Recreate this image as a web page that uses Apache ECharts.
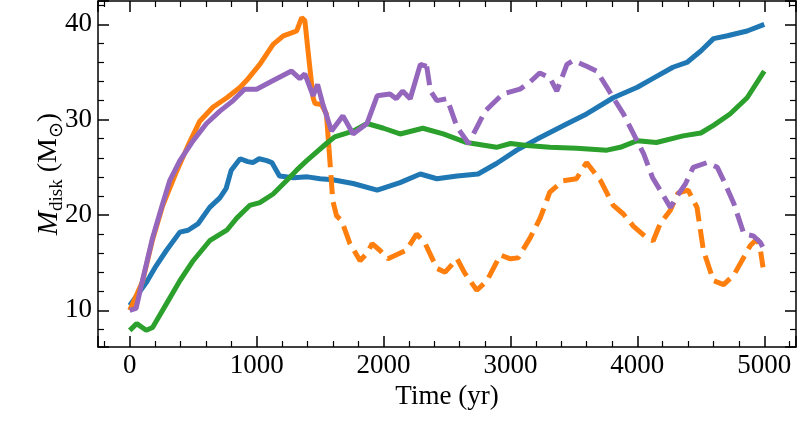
<!DOCTYPE html>
<html>
<head>
<meta charset="utf-8">
<script src="https://cdn.jsdelivr.net/npm/echarts@6/dist/echarts.min.js"></script>
<style>
    html, body { margin: 0; padding: 0; background: #fff; }
    #disk-mass-chart { width: 800px; height: 426px; }
</style>
</head>
<body>
<div id="disk-mass-chart"></div>
<script>
    // blue run
    const blueTime = [0, 60, 130, 200, 290, 395, 460, 540, 630, 710, 760, 800, 870, 930, 970, 1020, 1080, 1120, 1180, 1290, 1400, 1500, 1600, 1760, 1950, 2130, 2290, 2420, 2580, 2745, 2890, 3050, 3230, 3450, 3600, 3810, 4000, 4120, 4280, 4390, 4500, 4600, 4710, 4865, 5000];
    const blueMass = [10.5, 11.6, 12.9, 14.5, 16.3, 18.2, 18.4, 19.1, 20.8, 21.8, 22.8, 24.7, 25.9, 25.6, 25.5, 25.9, 25.7, 25.5, 24.1, 23.9, 24.0, 23.8, 23.7, 23.3, 22.6, 23.4, 24.3, 23.8, 24.1, 24.3, 25.4, 26.8, 28.1, 29.6, 30.6, 32.3, 33.4, 34.3, 35.5, 36.0, 37.2, 38.5, 38.8, 39.3, 40.0];

    // orange run, solid part then dashed part
    const orangeTime = [0, 100, 180, 260, 370, 460, 550, 655, 765, 870, 920, 1025, 1130, 1210, 1275, 1315, 1355, 1380, 1405, 1445, 1460, 1510, 1550, 1570];
    const orangeMass = [10.0, 13.0, 17.4, 21.0, 24.6, 27.3, 29.8, 31.3, 32.3, 33.4, 34.1, 35.8, 37.9, 38.8, 39.1, 39.3, 40.7, 40.4, 37.2, 32.3, 31.7, 31.6, 30.6, 27.0];
    const orangeDashTime = [1570, 1600, 1630, 1670, 1735, 1815, 1870, 1910, 1970, 2035, 2115, 2180, 2260, 2325, 2420, 2485, 2580, 2640, 2735, 2815, 2920, 3000, 3060, 3155, 3235, 3310, 3415, 3520, 3600, 3710, 3810, 3890, 3970, 4075, 4125, 4180, 4260, 4320, 4400, 4470, 4520, 4600, 4680, 4760, 4840, 4890, 4945, 4970, 4990];
    const orangeDashMass = [27.0, 21.5, 19.9, 19.4, 17.0, 15.2, 16.0, 17.0, 16.3, 15.4, 15.9, 16.3, 18.0, 17.1, 14.4, 14.0, 15.4, 13.9, 12.1, 13.1, 15.8, 15.4, 15.5, 17.6, 19.7, 22.4, 23.6, 23.8, 25.5, 23.6, 21.0, 20.1, 18.8, 17.6, 17.3, 19.1, 20.5, 22.3, 22.6, 20.8, 16.3, 13.1, 12.7, 13.7, 15.6, 16.8, 17.5, 16.3, 14.5];

    // green run
    const greenTime = [0, 55, 130, 180, 290, 395, 500, 630, 765, 845, 945, 1025, 1130, 1235, 1315, 1395, 1550, 1615, 1760, 1870, 2000, 2130, 2310, 2470, 2655, 2890, 3000, 3130, 3310, 3520, 3760, 3865, 4000, 4150, 4360, 4500, 4600, 4730, 4865, 5000];
    const greenMass = [7.9, 8.6, 7.9, 8.2, 10.7, 13.1, 15.2, 17.3, 18.4, 19.7, 21.0, 21.3, 22.2, 23.6, 24.7, 25.7, 27.5, 28.2, 28.8, 29.6, 29.1, 28.5, 29.1, 28.5, 27.6, 27.1, 27.5, 27.3, 27.1, 27.0, 26.8, 27.1, 27.8, 27.6, 28.3, 28.6, 29.4, 30.6, 32.3, 35.1];

    // purple run, solid part then dashed part
    const purpleTime = [0, 50, 100, 180, 260, 315, 395, 500, 605, 710, 815, 905, 1000, 1130, 1275, 1340, 1380, 1445, 1480, 1520, 1590, 1680, 1760, 1870, 1950, 2050, 2100, 2150, 2210, 2290, 2340];
    const purpleMass = [10.0, 10.2, 13.1, 17.6, 21.2, 23.6, 25.7, 27.8, 29.6, 30.9, 32.0, 33.2, 33.2, 34.1, 35.1, 34.3, 34.8, 32.5, 33.7, 31.7, 28.8, 30.4, 28.5, 29.6, 32.5, 32.7, 32.2, 33.0, 32.2, 35.8, 35.6];
    const purpleDashTime = [2340, 2370, 2420, 2500, 2580, 2670, 2735, 2800, 2940, 3075, 3150, 3230, 3310, 3365, 3445, 3495, 3600, 3680, 3760, 3810, 3890, 3970, 4050, 4120, 4180, 4260, 4320, 4380, 4440, 4550, 4630, 4680, 4760, 4840, 4915, 4970, 5000];
    const purpleDashMass = [35.6, 33.0, 32.0, 32.2, 29.2, 27.5, 29.2, 30.9, 32.7, 33.2, 33.9, 34.9, 34.4, 33.0, 35.8, 36.2, 35.6, 35.1, 33.4, 32.3, 30.6, 28.5, 26.4, 23.9, 22.6, 20.8, 22.1, 23.3, 25.0, 25.5, 25.0, 23.6, 21.2, 18.0, 17.8, 17.1, 16.3];

    const xMin = -250, xMax = 5250;
    const yMin = 6.15, yMax = 42.45;

    function pairs(t, v) {
        return t.map((x, i) => [x, v[i]]);
    }

    function lineSeries(t, v, color, dashed) {
        return {
            type: "line",
            data: pairs(t, v),
            showSymbol: false,
            symbol: "none",
            lineStyle: { color: color, width: 5, type: dashed ? [19, 8] : "solid" },
            z: 3
        };
    }

    const serif = "Liberation Serif";
    const tickStyle = { show: true, inside: true, length: 11, lineStyle: { color: "#000", width: 1.5 } };
    const minorStyle = { show: true, splitNumber: 5, length: 6, lineStyle: { color: "#000", width: 1.2 } };
    const lineAxis = { show: true, onZero: false, lineStyle: { color: "#000", width: 1.5 } };

    let eChart = echarts.init(document.getElementById("disk-mass-chart"));
    eChart.setOption({
        animation: false,
        grid: { left: 98, right: 4, top: 1, bottom: 79 },
        xAxis: [
            {
                type: "value",
                min: xMin,
                max: xMax,
                position: "bottom",
                axisLine: lineAxis,
                axisTick: tickStyle,
                minorTick: minorStyle,
                splitLine: { show: false },
                axisLabel: {
                    showMinLabel: false,
                    showMaxLabel: false,
                    margin: 5,
                    color: "#000",
                    fontFamily: serif,
                    fontSize: 27,
                    formatter: (v) => (Math.abs(v % 1000) < 1e-6 ? String(v) : "")
                },
                name: "Time (yr)",
                nameLocation: "middle",
                nameGap: 36,
                nameTextStyle: { color: "#000", fontFamily: serif, fontSize: 27 }
            },
            {
                type: "value",
                min: xMin,
                max: xMax,
                position: "top",
                axisLine: lineAxis,
                axisTick: tickStyle,
                minorTick: minorStyle,
                splitLine: { show: false },
                axisLabel: { show: false }
            }
        ],
        yAxis: [
            {
                type: "value",
                min: yMin,
                max: yMax,
                position: "left",
                axisLine: lineAxis,
                axisTick: tickStyle,
                minorTick: minorStyle,
                splitLine: { show: false },
                axisLabel: {
                    showMinLabel: false,
                    showMaxLabel: false,
                    margin: 6,
                    color: "#000",
                    fontFamily: serif,
                    fontSize: 27,
                    formatter: (v) => (Math.abs(v % 10) < 1e-6 ? String(v) : "")
                },
                name: "{m|M}{s|disk}{n| (M}{s|⊙}{n|)}",
                nameLocation: "middle",
                nameRotate: 90,
                nameGap: 31,
                nameMoveOverlap: false,
                nameTextStyle: {
                    color: "#000",
                    fontFamily: serif,
                    rich: {
                        m: { fontFamily: serif, fontStyle: "italic", fontSize: 29, lineHeight: 36, verticalAlign: "middle", color: "#000" },
                        n: { fontFamily: serif, fontSize: 28, lineHeight: 36, verticalAlign: "middle", color: "#000" },
                        s: { fontFamily: serif, fontSize: 19, lineHeight: 36, verticalAlign: "bottom", color: "#000" }
                    }
                }
            },
            {
                type: "value",
                min: yMin,
                max: yMax,
                position: "right",
                axisLine: lineAxis,
                axisTick: tickStyle,
                minorTick: minorStyle,
                splitLine: { show: false },
                axisLabel: { show: false }
            }
        ],
        series: [
            lineSeries(blueTime, blueMass, "#1f77b4", false),
            lineSeries(orangeTime, orangeMass, "#ff7f0e", false),
            lineSeries(orangeDashTime, orangeDashMass, "#ff7f0e", true),
            lineSeries(greenTime, greenMass, "#2ca02c", false),
            lineSeries(purpleTime, purpleMass, "#9467bd", false),
            lineSeries(purpleDashTime, purpleDashMass, "#9467bd", true)
        ]
    });
</script>
</body>
</html>
